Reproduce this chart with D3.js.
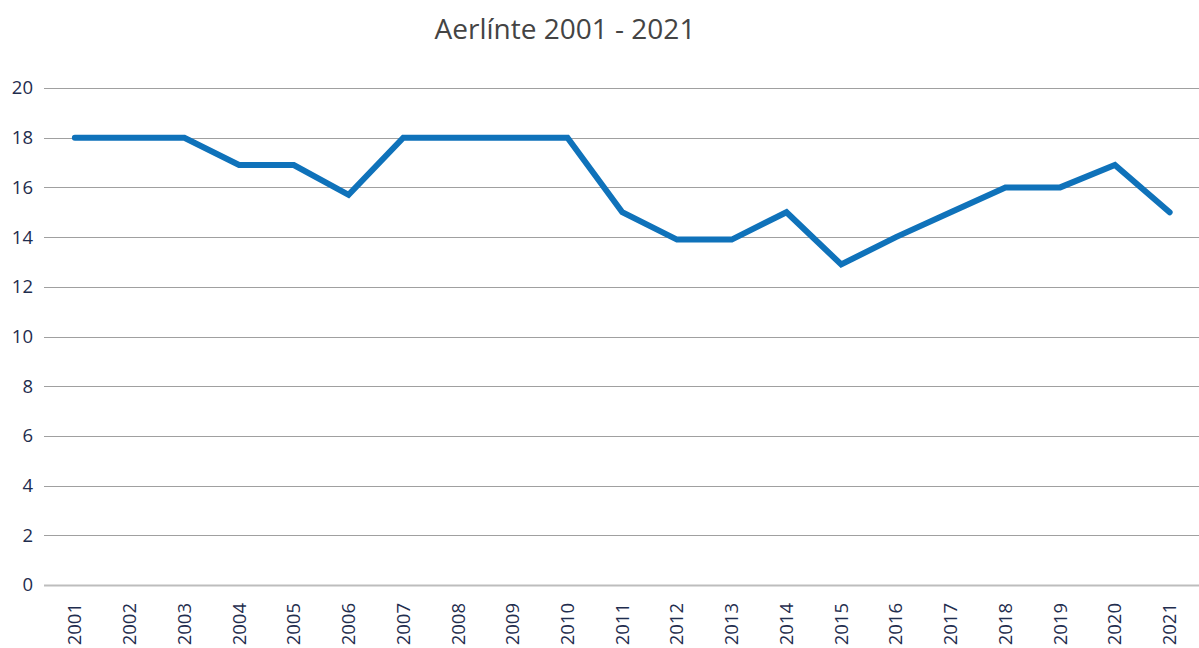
<!DOCTYPE html>
<html><head><meta charset="utf-8">
<script src="https://cdn.jsdelivr.net/npm/d3@7"></script>
<style>body{margin:0;background:#fff;}svg{display:block;}</style>
</head><body>
<svg id="c" width="1199" height="648"></svg>
<script>
const years = ["2001","2002","2003","2004","2005","2006","2007","2008","2009","2010","2011","2012","2013","2014","2015","2016","2017","2018","2019","2020","2021"];
const values = [18,18,18,16.9,16.9,15.7,18,18,18,18,15,13.9,13.9,15,12.9,14,15,16,16,16.9,15];
const yTicks = [0,2,4,6,8,10,12,14,16,18,20];
const title = "Aerlínte 2001 - 2021";

(function(){
const svg = d3.select("#c");
const mLeft = 44, mRight = 1199, mTop = 88, mBottom = 585;
const x = d3.scaleBand().domain(years).range([mLeft + 3.5, mRight - 2]);
const y = d3.scaleLinear().domain([0,20]).range([mBottom, mTop]);

svg.append("text").attr("x", 565).attr("y", 39).attr("text-anchor","middle")
  .attr("font-family","'Open Sans', sans-serif").attr("font-size", 28).attr("fill","#444")
  .text(title);

svg.append("g").selectAll("line").data(yTicks).join("line")
  .attr("x1", mLeft).attr("x2", mRight)
  .attr("y1", d => Math.round(y(d)) + 0.5).attr("y2", d => Math.round(y(d)) + 0.5)
  .attr("stroke", d => d === 0 ? "#bdbdbd" : "#a0a0a0")
  .attr("stroke-width", d => d === 0 ? 2 : 1);

const yAxis = d3.axisLeft(y).tickValues(yTicks).tickSize(0).tickPadding(0);
svg.append("g").attr("transform", "translate(33,0)").call(yAxis)
  .call(s => s.select(".domain").remove())
  .selectAll("text").attr("font-family","'Open Sans', sans-serif").attr("font-size", 18.5).attr("fill","#1f2d4e");

const xAxis = d3.axisBottom(x).tickSize(0).tickPadding(0);
svg.append("g").attr("transform", `translate(0,${mBottom + 18})`).call(xAxis)
  .call(s => s.select(".domain").remove())
  .selectAll("text")
  .attr("font-family","'Open Sans', sans-serif").attr("font-size", 18.5).attr("fill","#1f2d4e")
  .attr("transform","rotate(-90)").attr("text-anchor","end").attr("dy","0.35em").attr("x",0).attr("y",0);

const line = d3.line().x((d,i) => x(years[i]) + x.bandwidth()/2).y(d => y(d));
svg.append("path").datum(values).attr("d", line)
  .attr("fill","none").attr("stroke","#0f72ba").attr("stroke-width", 6)
  .attr("stroke-linejoin","miter").attr("stroke-linecap","round");
})();
</script>
</body></html>
